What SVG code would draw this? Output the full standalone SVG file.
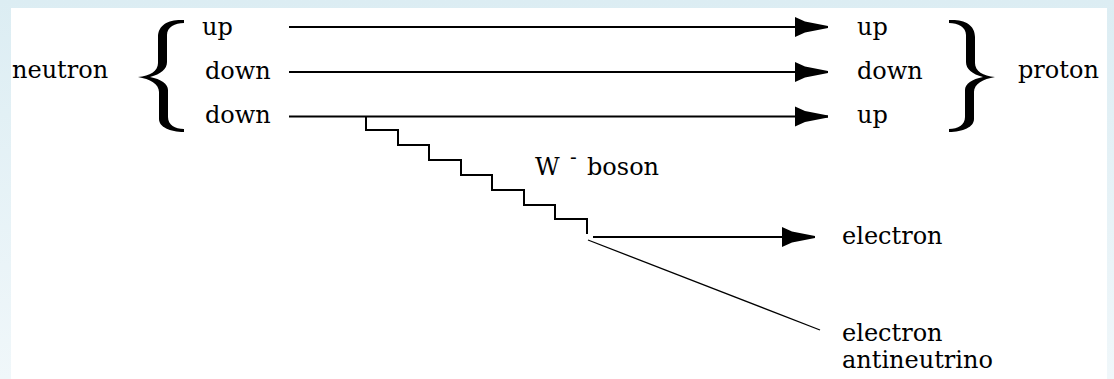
<svg xmlns="http://www.w3.org/2000/svg" width="1114" height="379" viewBox="0 0 1114 379">
  <defs>
    <linearGradient id="frameGrad" x1="0" y1="0" x2="0" y2="1">
      <stop offset="0" stop-color="#dcedf3"/>
      <stop offset="1" stop-color="#f0f7fa"/>
    </linearGradient>
    <marker id="dart" markerUnits="userSpaceOnUse" markerWidth="36" markerHeight="24" refX="33" refY="12" orient="auto" overflow="visible">
      <path d="M0,2 L10,6.5 L33,11 L33,13 L10,17.5 L0,22 Z" fill="#000"/>
    </marker>
    <path id="brace" d="M184,20 C170,19 158,24 158,37 L158,63 C158,71 150,76 138,77 C150,79 159,84 159,92 L159,119 C159,127 170,132 184,132 L184,129 C175,129 168,125 168,117 L168,90 C168,84 161,79 150,77 C161,74 167,69 167,62 L167,35 C167,27 175,23 184,23 Z" fill="#000"/>
  </defs>
  <style>
    text { font-family: "DejaVu Serif", "Liberation Serif", serif; font-size: 24px; fill: #000; }
    .quark { stroke: #000; stroke-width: 2; fill: none; }
    .boson { stroke: #000; stroke-width: 2; fill: none; }
    .lepton { stroke: #000; stroke-width: 1.8; fill: none; }
    .neutrino { stroke: #000; stroke-width: 1.3; fill: none; }
  </style>

  <rect x="0" y="0" width="1114" height="379" fill="url(#frameGrad)"/>
  <rect x="11" y="8" width="1096" height="371" fill="#ffffff"/>

  <g id="connectors">
    <line class="quark" x1="289" y1="27" x2="828" y2="27" marker-end="url(#dart)"/>
    <line class="quark" x1="289" y1="72" x2="828" y2="72" marker-end="url(#dart)"/>
    <line class="quark" x1="289" y1="116.5" x2="828" y2="116.5" marker-end="url(#dart)"/>
    <path class="boson" d="M366,116.5 V130 H398 V145 H429 V160 H461 V175 H492 V190 H524 V205 H555 V219 H587 V234"/>
    <line class="lepton" x1="593" y1="237" x2="815" y2="237" marker-end="url(#dart)"/>
    <line class="neutrino" x1="588" y1="240" x2="820" y2="330"/>
  </g>

  <g id="neutron">
    <text x="12" y="78">neutron</text>
    <use href="#brace"/>
  </g>
  <g id="neutron-quarks">
    <text x="202" y="34.5">up</text>
    <text x="205" y="78.5">down</text>
    <text x="205" y="123">down</text>
  </g>
  <g id="proton-quarks">
    <text x="857" y="34.5">up</text>
    <text x="857" y="78.5">down</text>
    <text x="857" y="123">up</text>
  </g>
  <g id="proton">
    <use href="#brace" transform="translate(1133,0) scale(-1,1)"/>
    <text x="1018" y="78">proton</text>
  </g>
  <g id="w-boson">
    <text x="535" y="175">W<tspan x="570" dy="-11" font-size="20">-</tspan><tspan x="587" dy="11">boson</tspan></text>
  </g>
  <g id="electron">
    <text x="842" y="243.5">electron</text>
  </g>
  <g id="antineutrino">
    <text x="842" y="341">electron</text>
    <text x="842" y="368">antineutrino</text>
  </g>
</svg>
